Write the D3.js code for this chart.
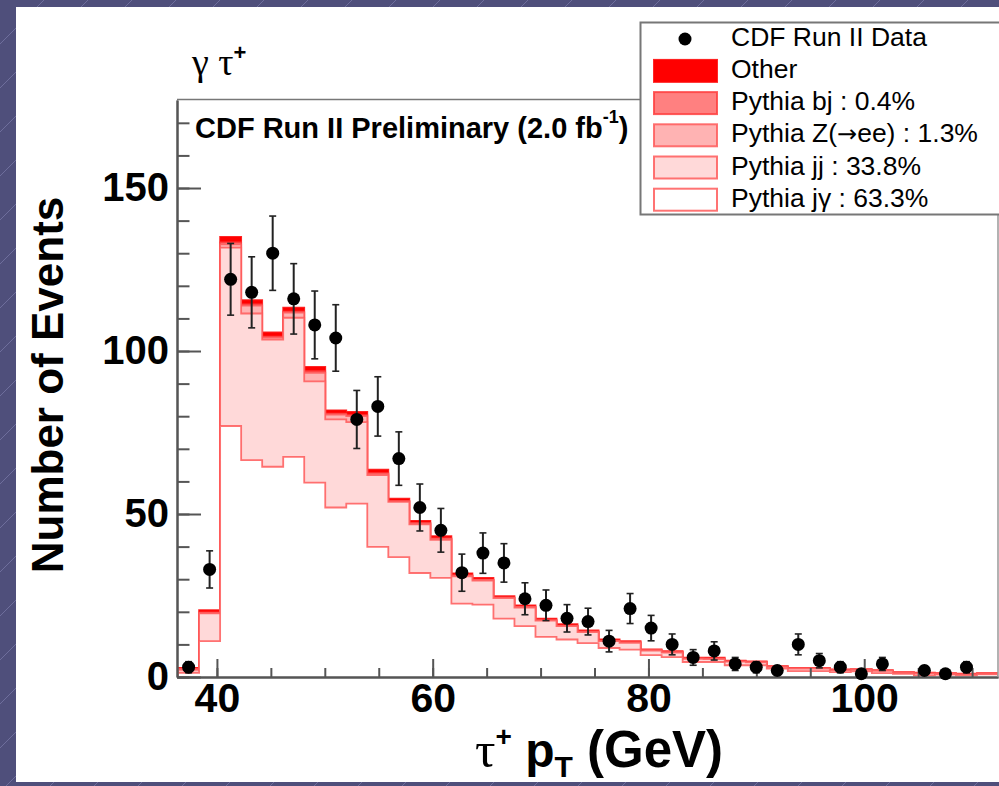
<!DOCTYPE html>
<html>
<head>
<meta charset="utf-8">
<script src="https://cdn.jsdelivr.net/npm/d3@7"></script>
<style>
  body { margin: 0; background: #4f4f7b; }
  svg { display: block; }
</style>
</head>
<body>
<svg id="chart" width="999" height="786"></svg>
<script>
// histogram binning (GeV)
const binLow = 36.4, binHigh = 112.4;

// CDF data, events per bin
const dataCounts = [3, 33, 122, 118, 130, 116, 108, 104, 79, 83, 67, 52, 45, 32, 38, 35, 24, 22, 18, 17,
  11, 21, 15, 10, 6, 8, 4, 3, 2, 10, 5, 3, 1, 4, 0, 2, 1, 3, 0];
const dataErrors = [1.7, 5.7, 11, 10.9, 11.4, 10.8, 10.4, 10.2, 8.9, 9.1, 8.2, 7.2, 6.7, 5.7, 6.2, 5.9, 4.9, 4.7, 4.2, 4.1,
  3.3, 4.6, 3.9, 3.2, 2.4, 2.8, 2, 1.7, 1.4, 3.2, 2.2, 1.7, 1, 2, 0, 1.4, 1, 1.7, 0];

// MC components (per bin, not stacked)
const jgamma = [1.3, 11, 77, 66.5, 64.5, 67.5, 59.6, 52, 53.2, 39.9, 36.8, 31.9, 30.4, 22.5, 22.2, 17.9, 15.6, 12.3, 11.5, 10.4,
  8.9, 8.4, 6.7, 6.1, 4.6, 4.6, 3.6, 3.6, 2.6, 1.8, 1.8, 1.5, 1.7, 1.2, 1.0, 0.5, 0.7, 0.5, 0.8];
const jj = [0.9, 8.5, 54.7, 45, 39, 42.7, 31.1, 27, 25, 22, 16.9, 14.9, 11.7, 8.4, 7.4, 6.3, 5.7, 5.0, 4.1, 3.4,
  2.1, 2.1, 1.4, 1.4, 1.0, 0.9, 1.1, 0.9, 0.5, 0.8, 0.8, 0.6, 0.5, 0.7, 0.3, 0.6, 0.3, 0.3, 0.2];
const zee = [0.2, 0.2, 1.0, 2.4, 0.6, 1.6, 2.6, 1.5, 1.8, 0.4, 0.2, 0.3, 0.3, 0.2, 0.2, 0.1, 0.2, 0.1, 0.1, 0.1,
  0.1, 0.1, 0.1, 0.1, 0.05, 0.1, 0.05, 0.05, 0.05, 0, 0, 0, 0, 0, 0, 0, 0, 0, 0];
const bj = [0.1, 0.1, 0.6, 0.4, 0.3, 0.3, 0.5, 0.3, 0.3, 0.2, 0.1, 0.1, 0.1, 0.1, 0.1, 0.1, 0.1, 0.05, 0.05, 0.05,
  0.05, 0.05, 0.05, 0.05, 0.05, 0.05, 0.05, 0.05, 0, 0, 0, 0, 0, 0, 0, 0, 0, 0, 0];
const other = [0.3, 0.7, 1.7, 1.3, 1.3, 1.2, 1.3, 1.0, 1.0, 1.1, 0.7, 0.7, 0.7, 0.6, 0.5, 0.4, 0.4, 0.45, 0.45, 0.35,
  0.35, 0.35, 0.25, 0.25, 0.2, 0.25, 0.2, 0.2, 0.15, 0.2, 0.2, 0.2, 0.2, 0.2, 0.2, 0.2, 0.2, 0.2, 0.2];

const legendLabels = ["CDF Run II Data", "Other", "Pythia bj : 0.4%", ["Pythia Z(", "\u2192", "ee) : 1.3%"], "Pythia jj : 33.8%", "Pythia j\u03b3 : 63.3%"];
const xMajorTicks = [40, 60, 80, 100];
const yMajorTicks = [0, 50, 100, 150];

const sans = "'Liberation Sans', Arial, Helvetica, sans-serif";
const serif = "'Liberation Serif', 'Times New Roman', serif";
const svg = d3.select("#chart");

// slide background
const defs = svg.append("defs");
const pat = defs.append("pattern").attr("id", "diag")
    .attr("width", 44).attr("height", 44).attr("patternUnits", "userSpaceOnUse");
pat.append("rect").attr("width", 44).attr("height", 44).attr("fill", "#4f4f7b");
pat.append("line").attr("x1", 0).attr("y1", 44).attr("x2", 44).attr("y2", 0)
    .attr("stroke", "#6e6e9c").attr("stroke-width", 1);
svg.append("rect").attr("width", 999).attr("height", 786).attr("fill", "url(#diag)");
svg.append("rect").attr("x", 16).attr("y", 7).attr("width", 983).attr("height", 775).attr("fill", "#fff");

// scales
const x = d3.scaleLinear().domain([36.3, 112.4]).range([177, 998]);
const y = d3.scaleLinear().domain([0, 177]).range([677, 100]);

defs.append("clipPath").attr("id", "plotclip")
  .append("rect").attr("x", 177).attr("y", 100).attr("width", 821).attr("height", 577);

const nb = dataCounts.length;
const edge = i => binLow + i * (binHigh - binLow) / nb;
const center = i => binLow + (i + 0.5) * (binHigh - binLow) / nb;

// stacked MC, bottom to top
const layers = [jgamma, jj, zee, bj, other];
const fills = ["#ffffff", "#ffd9d9", "#ffb3b3", "#ff8080", "#ff0000"];
const strokes = ["#ff5a5a", "#ff5a5a", "#ff5a5a", "#ff4040", "#ff0000"];
const cum = [];
layers.forEach((l, k) => cum.push(l.map((v, i) => v + (k > 0 ? cum[k - 1][i] : 0))));

function stepPath(vals) {
  const pts = [[edge(0), 0]];
  vals.forEach((v, i) => { pts.push([edge(i), v]); pts.push([edge(i + 1), v]); });
  pts.push([edge(nb), 0]);
  return d3.line().x(d => x(d[0])).y(d => y(d[1]))(pts);
}

const plot = svg.append("g").attr("clip-path", "url(#plotclip)");
for (let k = layers.length - 1; k >= 0; k--) {
  plot.append("path")
    .attr("d", stepPath(cum[k]))
    .attr("fill", fills[k])
    .attr("stroke", strokes[k])
    .attr("stroke-width", 1.8)
    .attr("stroke-opacity", 0.85);
}

// axes
function styleAxis(g, size) {
  g.selectAll("line").attr("stroke", "#555").attr("stroke-width", 2);
  g.select(".domain").attr("stroke", "#555").attr("stroke-width", 2);
  g.selectAll("text").attr("fill", "#000").attr("font-family", sans)
    .attr("font-weight", "bold").attr("font-size", size);
}
const yMinor = svg.append("g").attr("transform", "translate(177,0)")
  .call(d3.axisLeft(y).tickValues(d3.range(0, 171, 10)).tickSize(-12.5).tickSizeOuter(0).tickFormat(""));
styleAxis(yMinor, 10);
const yMajor = svg.append("g").attr("transform", "translate(177,0)")
  .call(d3.axisLeft(y).tickValues(yMajorTicks).tickSize(-24).tickSizeOuter(0).tickPadding(8));
styleAxis(yMajor, 40);
yMajor.selectAll("text").attr("dy", "0.30em");

const xMinor = svg.append("g").attr("transform", "translate(0,677)")
  .call(d3.axisBottom(x).tickValues(d3.range(40, 111, 5)).tickSize(-9).tickSizeOuter(0).tickFormat(""));
styleAxis(xMinor, 10);
const xMajor = svg.append("g").attr("transform", "translate(0,677)")
  .call(d3.axisBottom(x).tickValues(xMajorTicks).tickSize(-18).tickSizeOuter(0).tickPadding(6));
styleAxis(xMajor, 41);

// frame top and right
svg.append("line").attr("x1", 177).attr("x2", 998).attr("y1", 99.5).attr("y2", 99.5)
  .attr("stroke", "#777").attr("stroke-width", 1.5);
svg.append("line").attr("x1", 998).attr("x2", 998).attr("y1", 99.5).attr("y2", 677)
  .attr("stroke", "#999").attr("stroke-width", 1.5);

// data points
const pts = svg.append("g");
dataCounts.forEach((c, i) => {
  if (c <= 0) return;
  const cx = x(center(i));
  const e = dataErrors[i];
  pts.append("line").attr("x1", cx).attr("x2", cx).attr("y1", y(c - e)).attr("y2", y(c + e))
    .attr("stroke", "#222").attr("stroke-width", 2);
  [c - e, c + e].forEach(v => {
    pts.append("line").attr("x1", cx - 3.5).attr("x2", cx + 3.5).attr("y1", y(v)).attr("y2", y(v))
      .attr("stroke", "#222").attr("stroke-width", 1.6);
  });
  pts.append("circle").attr("cx", cx).attr("cy", y(c)).attr("r", 6.5).attr("fill", "#000");
});

// titles
const gt = svg.append("text").attr("x", 192).attr("y", 75)
  .attr("font-family", serif).attr("font-size", 38);
gt.append("tspan").text("\u03b3 \u03c4");
gt.append("tspan").attr("dy", -15).attr("font-size", 22).attr("font-family", sans).attr("font-weight", "bold").text("+");

const prelim = svg.append("text").attr("x", 195).attr("y", 138)
  .attr("font-family", sans).attr("font-weight", "bold").attr("font-size", 29)
  .text("CDF Run II Preliminary (2.0 fb");
prelim.append("tspan").attr("dy", -15).attr("font-size", 18).text("-1");
prelim.append("tspan").attr("dy", 15).text(")");

const xt = svg.append("text").attr("x", 475).attr("y", 767)
  .attr("font-family", sans).attr("font-weight", "bold").attr("font-size", 51);
xt.append("tspan").attr("font-family", serif).attr("font-weight", "normal").text("\u03c4");
xt.append("tspan").attr("dy", -21).attr("font-size", 28).text("+");
xt.append("tspan").attr("dy", 21).attr("font-size", 48).text(" p");
xt.append("tspan").attr("dy", 10).attr("font-size", 30).text("T");
xt.append("tspan").attr("dy", -10).text(" (GeV)");

svg.append("text").attr("transform", "translate(63,385) rotate(-90)")
  .attr("text-anchor", "middle")
  .attr("font-family", sans).attr("font-weight", "bold").attr("font-size", 44)
  .text("Number of Events");

// legend
const lg = svg.append("g");
lg.append("rect").attr("x", 640.5).attr("y", 22.5).attr("width", 370).attr("height", 192)
  .attr("fill", "#fff").attr("stroke", "#777").attr("stroke-width", 2);
const rowY = i => 45.7 + i * 32.2;
lg.append("circle").attr("cx", 685).attr("cy", 39).attr("r", 6.5).attr("fill", "#000");
for (let k = 4; k >= 0; k--) {
  const row = 5 - k;
  lg.append("rect").attr("x", 654).attr("y", rowY(row) - 18).attr("width", 63).attr("height", 22)
    .attr("fill", fills[k]).attr("stroke", strokes[k]).attr("stroke-width", 2).attr("stroke-opacity", 0.85);
}
legendLabels.forEach((t, i) => {
  const tx = lg.append("text").attr("x", 731).attr("y", rowY(i))
    .attr("font-family", sans).attr("font-size", 26.5).attr("fill", "#000");
  if (Array.isArray(t)) {
    tx.append("tspan").text(t[0]);
    tx.append("tspan").attr("font-family", "'DejaVu Sans', sans-serif").attr("font-size", 24).text(t[1]);
    tx.append("tspan").text(t[2]);
  } else {
    tx.text(t);
  }
});
</script>
</body>
</html>
